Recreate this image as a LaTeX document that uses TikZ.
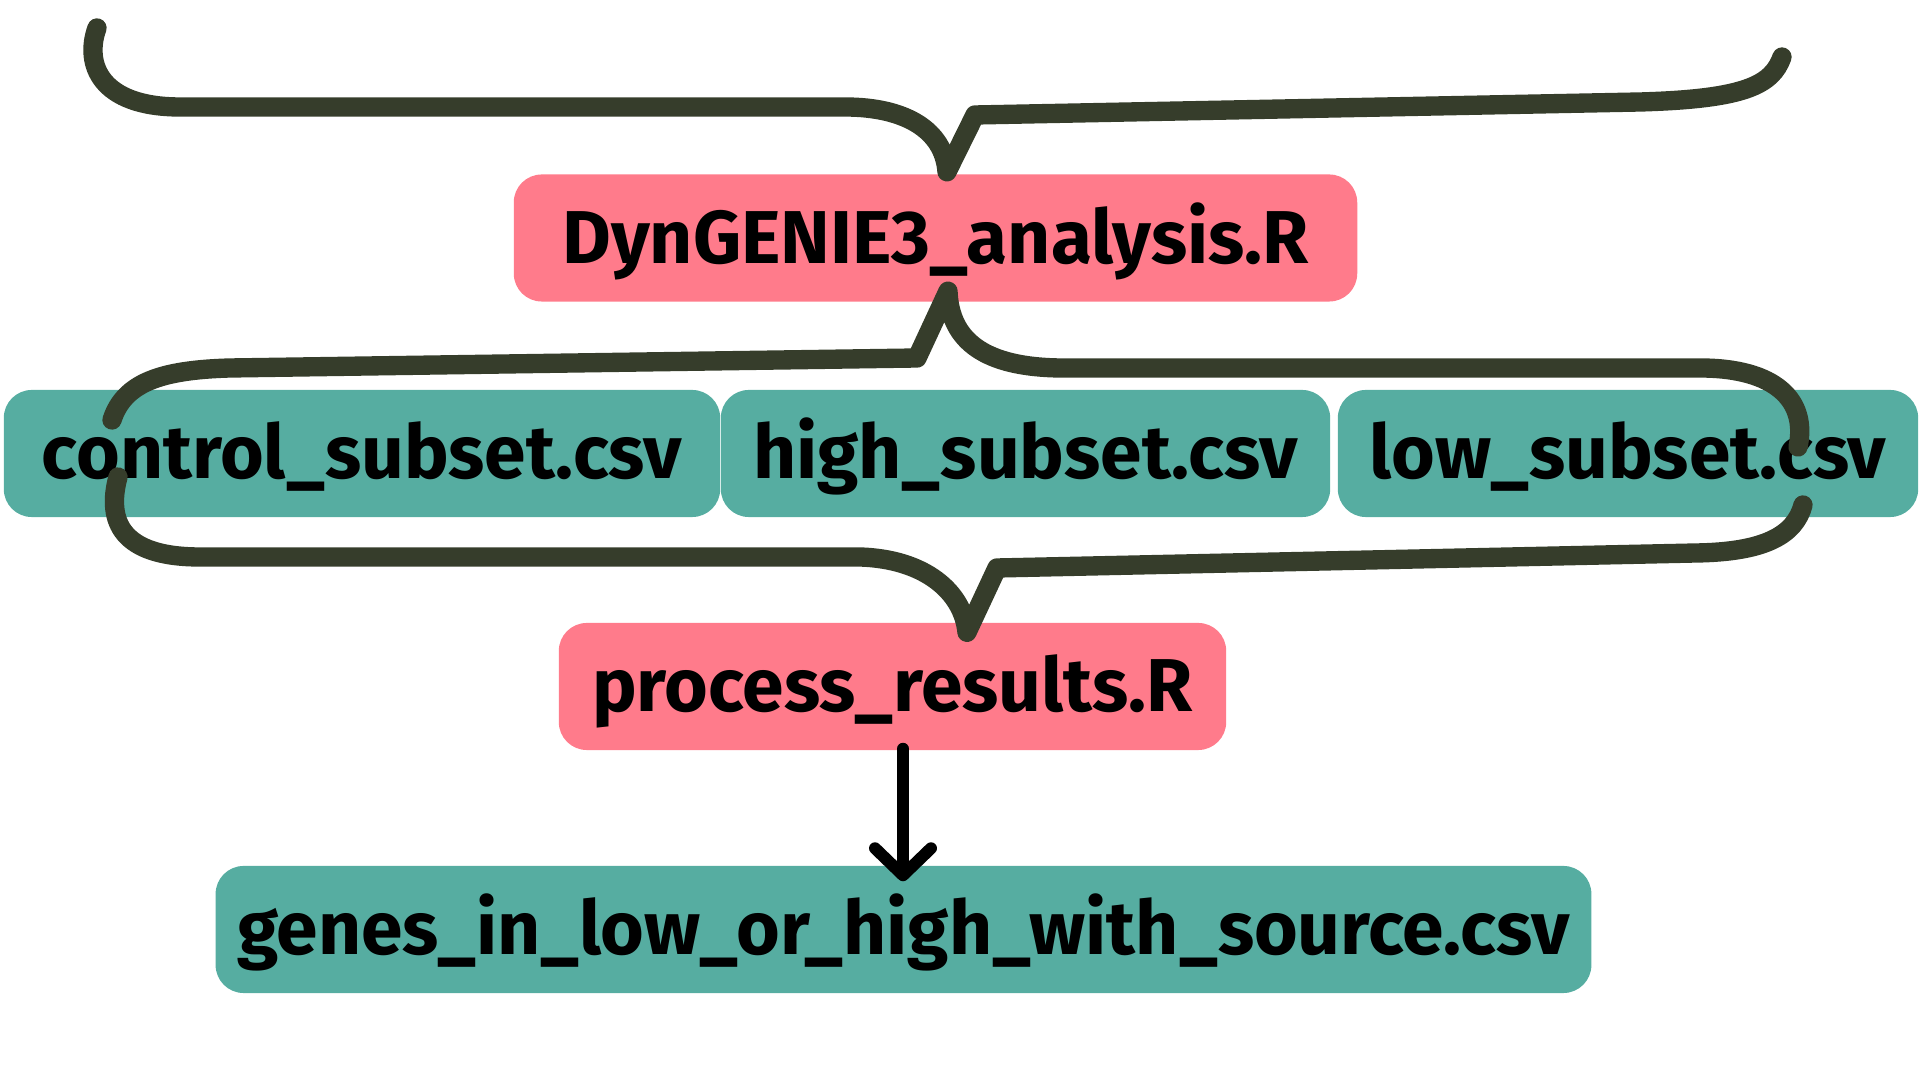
\documentclass[tikz,border=0pt]{standalone}
\usepackage{fontspec}
\setmainfont{Fira Sans}
\usetikzlibrary{calc,arrows.meta}

\definecolor{scriptpink}{HTML}{FF7B8B}
\definecolor{fileteal}{HTML}{56ADA1}
\definecolor{braceolive}{HTML}{363D2B}

\tikzset{
	filebox/.style={rounded corners=0.28cm, minimum height=1.27cm, inner sep=0pt,
		text height=0.5cm, text depth=0pt,
		font=\fontsize{21.3}{21.3}\selectfont\bfseries},
	script/.style={filebox, fill=scriptpink},
	datafile/.style={filebox, fill=fileteal},
	bracepath/.style={line width=5.5pt, color=braceolive, line cap=round, line join=round},
	flow/.style={line width=3.4pt, line cap=round,
		-{Straight Barb[length=0.27cm,width=0.56cm,line cap=round,line join=round]}}
}

\begin{document}
\begin{tikzpicture}[x=0.01cm, y=-0.01cm]
			%%%%% START %%%%%
			\useasboundingbox (0,0) rectangle (1920,1080);
			
			\node[script, minimum width=8.43cm] (dyn) at (935.5,238) {DynGENIE3\_analysis.R};
			
			\node[datafile, minimum width=7.16cm] (ctrl) at (362,453.5) {control\_subset.csv};
			\node[datafile, minimum width=6.09cm] (high) at (1025.5,453.5) {high\_subset.csv};
			\node[datafile, minimum width=5.80cm] (low) at (1628,453.5) {low\_subset.csv};
			
			\node[script, minimum width=6.67cm] (proc) at (892.5,686.5) {process\_results.R};
			
			\node[datafile, minimum width=13.75cm] (genes) at (903.5,929.5) {genes\_in\_low\_or\_high\_with\_source.csv};
			
			% tips of the braces
			\coordinate (tip1) at ($(dyn.north)+(11.5,-2)$);
			\coordinate (tip2) at ($(dyn.south)+(12.5,-11)$);
			\coordinate (tip3) at ($(proc.north)+(74.5,10)$);
			
			% brace into DynGENIE3
			\draw[bracepath] (97,28) .. controls (84,64) and (100,107) .. (180,107) -- (845,107)
				.. controls (905,107) and (944,130) .. (tip1) -- (975,115) -- (1640,102)
				.. controls (1745,99) and (1772,85) .. (1782,57);
			
			% brace out of DynGENIE3
			\draw[bracepath] (112,420) .. controls (124,383) and (160,370) .. (230,368) -- (917,358)
				-- (tip2) .. controls (950,342) and (986,367) .. (1060,368) -- (1700,368)
				.. controls (1775,368) and (1808,400) .. (1798,447);
			
			% brace into process_results
			\draw[bracepath] (118,477) .. controls (106,522) and (122,557) .. (200,557) -- (860,557)
				.. controls (925,559) and (963,592) .. (tip3) -- (997,568) -- (1696,553)
				.. controls (1765,552) and (1795,535) .. (1803,505);
			
			\draw[flow] ($(proc.south)+(10.5,-2)$) -- ($(genes.north)+(-0.5,16)$);
			
			%%%%% END %%%%%
\end{tikzpicture}
\end{document}
